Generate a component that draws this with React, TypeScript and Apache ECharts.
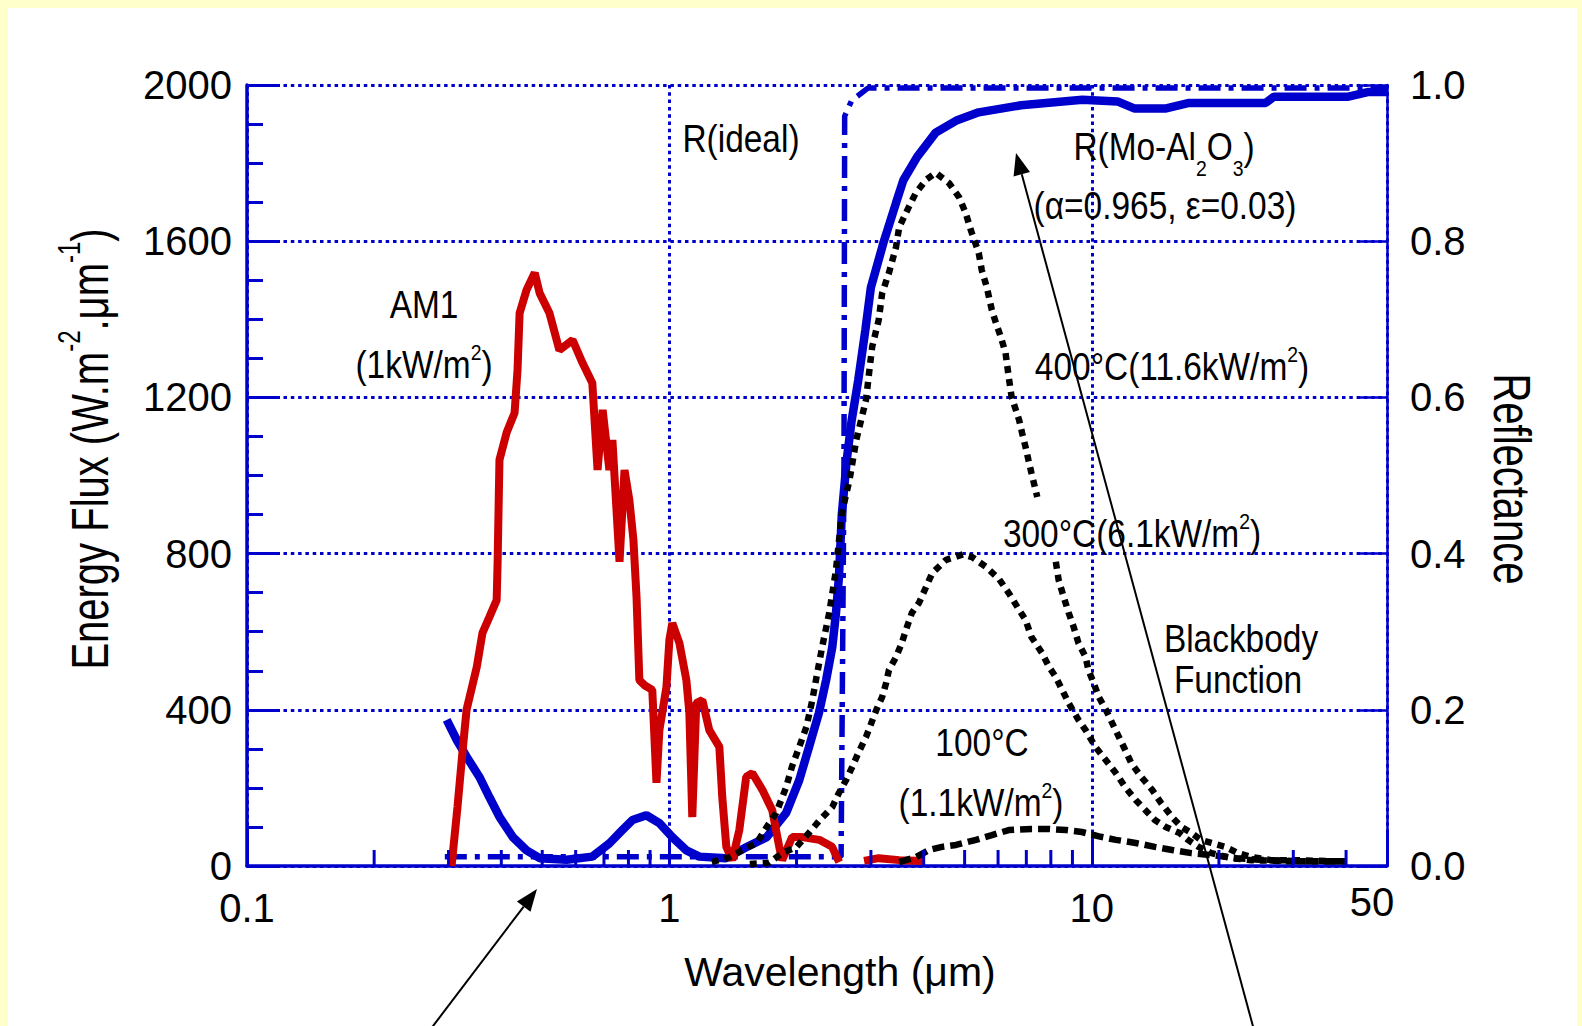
import React, { useEffect, useRef } from 'react';
import * as echarts from 'echarts';

const BLUE = '#0000CC';
const RED = '#CC0000';
const FONT = '"Liberation Sans", Arial, sans-serif';

// minor tick positions on the log wavelength axis
const X_MINOR_TICKS = [0.2, 0.3, 0.4, 0.5, 0.6, 0.7, 0.8, 0.9, 2, 3, 4, 5, 6, 7, 8, 9, 20, 30, 40];

// AM1 solar spectrum (wavelength um, W m-2 um-1)
const AM1 = [
  [0.305, 0], [0.315, 151], [0.324, 297], [0.331, 400], [0.35, 510], [0.361, 597], [0.375, 638],
  [0.39, 681], [0.392, 776], [0.396, 1040], [0.412, 1111], [0.43, 1160], [0.437, 1270], [0.442, 1416],
  [0.459, 1475], [0.48, 1519], [0.493, 1467], [0.52, 1416], [0.549, 1321], [0.59, 1347], [0.623, 1288],
  [0.657, 1237], [0.676, 1014], [0.695, 1168], [0.721, 1014], [0.733, 1091], [0.762, 779], [0.783, 1014],
  [0.804, 937], [0.822, 835], [0.836, 689], [0.849, 476], [0.873, 463], [0.911, 451], [0.932, 213],
  [0.947, 348], [0.984, 458], [1.0, 579], [1.016, 622], [1.056, 571], [1.097, 476], [1.115, 392],
  [1.133, 125], [1.158, 417], [1.197, 425], [1.243, 348], [1.313, 305], [1.334, 177], [1.364, 49],
  [1.409, 15], [1.464, 92], [1.52, 228], [1.571, 238], [1.66, 195], [1.752, 143], [1.82, 49],
  [1.849, 15], [1.953, 74], [2.062, 74], [2.264, 67], [2.428, 49], [2.523, 10],
];
const AM1_TAIL = [[2.89, 13], [3.13, 20], [3.5, 15], [4.01, 13]];

// Reflectance of Mo-Al2O3 (right axis)
const R_MO = [
  [0.297, 0.187], [0.314, 0.161], [0.331, 0.14], [0.355, 0.114], [0.375, 0.088], [0.396, 0.063],
  [0.426, 0.037], [0.459, 0.02], [0.493, 0.01], [0.571, 0.008], [0.657, 0.012], [0.721, 0.029],
  [0.774, 0.046], [0.818, 0.059], [0.882, 0.065], [0.947, 0.055], [1.016, 0.037], [1.097, 0.02],
  [1.177, 0.012], [1.36, 0.01], [1.52, 0.024], [1.7, 0.037], [1.89, 0.068], [2.03, 0.11], [2.14, 0.152],
  [2.26, 0.196], [2.35, 0.238], [2.43, 0.28], [2.48, 0.324], [2.52, 0.37], [2.56, 0.45], [2.63, 0.52],
  [2.7, 0.57], [2.8, 0.622], [2.91, 0.686], [3.0, 0.741], [3.22, 0.8], [3.44, 0.849], [3.58, 0.878],
  [3.86, 0.908], [4.27, 0.939], [4.8, 0.955], [5.4, 0.965], [6.8, 0.974], [9.5, 0.981], [11.5, 0.979],
  [12.6, 0.97], [15.0, 0.97], [17.0, 0.977], [25.8, 0.977], [27, 0.985], [40.5, 0.985], [45, 0.991], [50, 0.991],
];

// Ideal reflectance step (right axis)
const R_IDEAL = [[0.294, 0.012], [2.55, 0.012], [2.59, 0.5], [2.6, 0.96], [2.7, 0.98], [2.95, 0.996], [50, 0.996]];

// Blackbody 400 C (two visible pieces)
const BB400_A = [
  [1.26, 10], [1.39, 23], [1.49, 41], [1.61, 59], [1.7, 100], [1.79, 136], [1.89, 202], [1.95, 254],
  [2.03, 305], [2.11, 356], [2.18, 425], [2.23, 484], [2.3, 561], [2.39, 648], [2.48, 758], [2.56, 904],
  [2.67, 989], [2.77, 1091], [2.92, 1193], [2.97, 1262], [3.02, 1329], [3.13, 1398], [3.19, 1467],
  [3.31, 1519], [3.44, 1585], [3.5, 1636], [3.69, 1688], [3.83, 1723], [4.05, 1757], [4.27, 1775],
  [4.59, 1749], [4.85, 1713], [5.03, 1672], [5.17, 1629], [5.4, 1570], [5.49, 1526], [5.64, 1483],
  [5.8, 1424], [5.93, 1391], [6.09, 1355], [6.25, 1314], [6.36, 1252], [6.46, 1201], [6.73, 1142],
  [6.84, 1109], [6.97, 1073], [7.08, 1040], [7.2, 1006], [7.43, 945],
];
const BB400_B = [
  [8.22, 779], [8.35, 732], [8.58, 689], [8.82, 648], [9.06, 612], [9.3, 571], [9.67, 535], [9.82, 502],
  [10.1, 469], [10.39, 433], [10.8, 400], [11.18, 366], [11.6, 330], [12.0, 297], [12.4, 264], [13.1, 228],
  [13.9, 195], [14.6, 161], [15.5, 125], [16.3, 100], [17.2, 85], [18.1, 67], [19.2, 59], [20.7, 49],
  [22.2, 33], [23.9, 23], [26.6, 15], [30.9, 15], [36.9, 12], [40.0, 12],
];
// Blackbody 300 C
const BB300 = [
  [1.55, 5], [1.72, 8], [1.85, 33], [2.0, 49], [2.14, 85], [2.26, 115], [2.43, 151], [2.52, 187],
  [2.62, 220], [2.71, 254], [2.8, 289], [2.92, 330], [3.09, 400], [3.19, 433], [3.26, 469], [3.31, 502],
  [3.44, 535], [3.55, 571], [3.63, 604], [3.75, 648], [3.9, 674], [4.19, 750], [4.52, 784], [4.96, 798],
  [5.21, 791], [5.62, 766], [6.03, 735], [6.36, 699], [6.73, 656], [6.97, 630], [7.2, 586], [7.63, 545],
  [7.92, 510], [8.22, 484], [8.51, 451], [8.82, 417], [9.3, 374], [9.67, 348], [10.2, 305], [10.8, 271],
  [11.4, 238], [12.0, 202], [12.7, 169], [13.4, 143], [14.1, 118], [14.96, 100], [16.1, 85], [16.9, 67],
  [17.9, 49], [19.2, 33], [21.4, 20], [23.9, 15], [29.7, 12], [40, 12],
];
// Blackbody 100 C
const BB100 = [
  [3.5, 10], [3.84, 23], [4.12, 41], [4.42, 49], [4.77, 54], [5.32, 67], [5.8, 79], [6.36, 92], [7.2, 95],
  [7.92, 95], [8.69, 92], [9.47, 87], [10.4, 76], [11.4, 67], [12.7, 59], [14.1, 49], [15.5, 41],
  [17.2, 33], [19.2, 28], [22, 20], [26, 15], [32, 12], [40, 12],
];

const OX = 8;
const OY = 8;

const annStyle = (text: string, lh = 48) => ({
  text,
  fill: '#000',
  align: 'center',
  verticalAlign: 'middle',
  rich: {
    n: { fontFamily: FONT, fontSize: 38, lineHeight: lh, fill: '#000' },
    sup: { fontFamily: FONT, fontSize: 22, lineHeight: 20, verticalAlign: 'top', fill: '#000' },
    sub: { fontFamily: FONT, fontSize: 22, lineHeight: 22, verticalAlign: 'bottom', fill: '#000' },
  },
});

const ann = (x: number, y: number, text: string, lh = 48) => ({
  type: 'text',
  x: x - OX,
  y: y - OY,
  scaleX: 0.88,
  z: 100,
  style: annStyle(text, lh),
});

const arrow = (tail: number[], tip: number[]) => {
  const dx = tip[0] - tail[0];
  const dy = tip[1] - tail[1];
  const len = Math.sqrt(dx * dx + dy * dy);
  const ux = dx / len;
  const uy = dy / len;
  const hl = 22;
  const hw = 8.5;
  const bx = tip[0] - ux * hl;
  const by = tip[1] - uy * hl;
  return [
    {
      type: 'line',
      z: 100,
      shape: { x1: tail[0] - OX, y1: tail[1] - OY, x2: bx - OX, y2: by - OY },
      style: { stroke: '#000', lineWidth: 2 },
    },
    {
      type: 'polygon',
      z: 100,
      shape: {
        points: [
          [tip[0] - OX, tip[1] - OY],
          [bx - uy * hw - OX, by + ux * hw - OY],
          [bx + uy * hw - OX, by - ux * hw - OY],
        ],
      },
      style: { fill: '#000' },
    },
  ];
};

const bbLine = (name: string, data: number[][], dash: number[]) => ({
  name,
  type: 'line',
  xAxisIndex: 0,
  yAxisIndex: 0,
  data,
  showSymbol: false,
  symbol: 'none',
  z: 5,
  lineStyle: { color: '#000', width: 6.5, type: dash, cap: 'butt' },
});

export default function App() {
  const ref = useRef<HTMLDivElement>(null);

  useEffect(() => {
    document.body.style.margin = '0';
    const chart = echarts.init(ref.current as HTMLDivElement, null, { renderer: 'svg' });
    const option: any = {
      animation: false,
      backgroundColor: '#ffffff',
      grid: { left: 239, top: 77, right: 190, bottom: 160, containLabel: false },
      xAxis: {
        type: 'log',
        logBase: 10,
        min: 0.1,
        max: 50,
        axisLine: { show: true, onZero: false, lineStyle: { color: BLUE, width: 3.5 } },
        axisTick: { show: true, inside: true, length: 33, lineStyle: { color: BLUE, width: 3 } },
        minorTick: { show: false },
        axisLabel: {
          color: '#000',
          fontFamily: FONT,
          fontSize: 40,
          margin: 22,
          formatter: (v: number) => (v > 40 ? '' : String(Number(Number(v).toPrecision(3)))),
        },
        splitLine: { show: true, lineStyle: { color: BLUE, width: 3, type: [3.5, 3.8] } },
      },
      yAxis: [
        {
          type: 'value',
          position: 'left',
          min: 0,
          max: 2000,
          interval: 400,
          axisLine: { show: true, onZero: false, lineStyle: { color: BLUE, width: 3.5 } },
          axisTick: { show: true, inside: true, length: 33, lineStyle: { color: BLUE, width: 3 } },
          minorTick: { show: true, splitNumber: 4, length: 16, lineStyle: { color: BLUE, width: 3 } },
          axisLabel: {
            color: '#000',
            fontFamily: FONT,
            fontSize: 40,
            margin: 15,
            formatter: (v: number) => String(Math.round(v)),
          },
          splitLine: { show: true, lineStyle: { color: BLUE, width: 3, type: [3.5, 3.8] } },
        },
        {
          type: 'value',
          position: 'right',
          min: 0,
          max: 1,
          interval: 0.2,
          axisLine: { show: true, onZero: false, lineStyle: { color: BLUE, width: 2.5 } },
          axisTick: { show: true, inside: true, length: 30, lineStyle: { color: BLUE, width: 2.5 } },
          axisLabel: {
            color: '#000',
            fontFamily: FONT,
            fontSize: 40,
            margin: 23,
            formatter: (v: number) => Number(v).toFixed(1),
          },
          splitLine: { show: false },
        },
      ],
      series: [
        {
          name: 'R(ideal)',
          type: 'line',
          yAxisIndex: 1,
          data: R_IDEAL,
          showSymbol: false,
          symbol: 'none',
          z: 2,
          lineStyle: { color: BLUE, width: 5.5, type: [22, 8, 5, 8], cap: 'butt' },
        },
        {
          name: 'R(Mo-Al2O3)',
          type: 'line',
          yAxisIndex: 1,
          data: R_MO,
          showSymbol: false,
          symbol: 'none',
          z: 3,
          lineStyle: { color: BLUE, width: 8.5 },
        },
        {
          name: 'AM1',
          type: 'line',
          yAxisIndex: 0,
          data: AM1,
          showSymbol: false,
          symbol: 'none',
          z: 4,
          lineStyle: { color: RED, width: 8 },
        },
        {
          name: 'AM1 tail',
          type: 'line',
          yAxisIndex: 0,
          data: AM1_TAIL,
          showSymbol: false,
          symbol: 'none',
          z: 4,
          lineStyle: { color: RED, width: 8 },
        },
        bbLine('400C a', BB400_A, [7, 6]),
        bbLine('400C b', BB400_B, [7, 6]),
        bbLine('300C', BB300, [7, 6]),
        bbLine('100C', BB100, [12, 6]),
        {
          name: 'minor ticks',
          type: 'custom',
          xAxisIndex: 0,
          yAxisIndex: 0,
          silent: true,
          clip: false,
          z: 6,
          data: X_MINOR_TICKS.map((v) => [v, 0]),
          renderItem: (params: any, api: any) => {
            const p = api.coord([api.value(0), 0]);
            return {
              type: 'line',
              shape: { x1: p[0], y1: p[1], x2: p[0], y2: p[1] - 16 },
              style: { stroke: BLUE, lineWidth: 3 },
            };
          },
        },
      ],
      graphic: [
        {
          type: 'text',
          x: 90 - OX,
          y: 449 - OY,
          rotation: Math.PI / 2,
          scaleY: 1.3,
          z: 100,
          style: {
            text: '{n|Energy Flux (W.m}{s|-2}{n|.μm}{s|-1}{n|)}',
            align: 'center',
            verticalAlign: 'middle',
            fill: '#000',
            rich: {
              n: { fontFamily: FONT, fontSize: 40, lineHeight: 56, fill: '#000' },
              s: { fontFamily: FONT, fontSize: 24, lineHeight: 24, verticalAlign: 'top', fill: '#000' },
            },
          },
        },
        {
          type: 'text',
          x: 1512 - OX,
          y: 479 - OY,
          rotation: -Math.PI / 2,
          scaleY: 1.3,
          z: 100,
          style: {
            text: 'Reflectance',
            fontFamily: FONT,
            fontSize: 40,
            align: 'center',
            verticalAlign: 'middle',
            fill: '#000',
          },
        },
        {
          type: 'text',
          x: 840 - OX,
          y: 972 - OY,
          z: 100,
          style: {
            text: 'Wavelength (μm)',
            fontFamily: FONT,
            fontSize: 41,
            align: 'center',
            verticalAlign: 'middle',
            fill: '#000',
          },
        },
        {
          type: 'text',
          x: 1372 - OX,
          y: 902 - OY,
          z: 100,
          style: { text: '50', fontFamily: FONT, fontSize: 40, align: 'center', verticalAlign: 'middle', fill: '#000' },
        },
        ann(741, 139, '{n|R(ideal)}'),
        ann(1164, 147, '{n|R(Mo-Al}{sub|2}{n|O}{sub|3}{n|)}', 64),
        ann(1165, 206, '{n|(α=0.965, ε=0.03)}'),
        ann(424, 305, '{n|AM1}'),
        ann(424, 365, '{n|(1kW/m}{sup|2}{n|)}'),
        ann(1172, 367, '{n|400°C(11.6kW/m}{sup|2}{n|)}'),
        ann(1132, 534, '{n|300°C(6.1kW/m}{sup|2}{n|)}'),
        ann(1241, 639, '{n|Blackbody}'),
        ann(1238, 680, '{n|Function}'),
        ann(982, 743, '{n|100°C}'),
        ann(981, 803, '{n|(1.1kW/m}{sup|2}{n|)}'),
        ...arrow([430, 1030], [537, 889]),
        ...arrow([1254, 1030], [1016, 153]),
      ],
    };
    chart.setOption(option);
    return () => chart.dispose();
  }, []);

  return (
    <div style={{ position: 'relative', width: 1582, height: 1026, background: '#FFFFCC', overflow: 'hidden' }}>
      <div
        ref={ref}
        style={{ position: 'absolute', left: OX, top: OY, width: 1569, height: 1018, background: '#ffffff' }}
      />
    </div>
  );
}
